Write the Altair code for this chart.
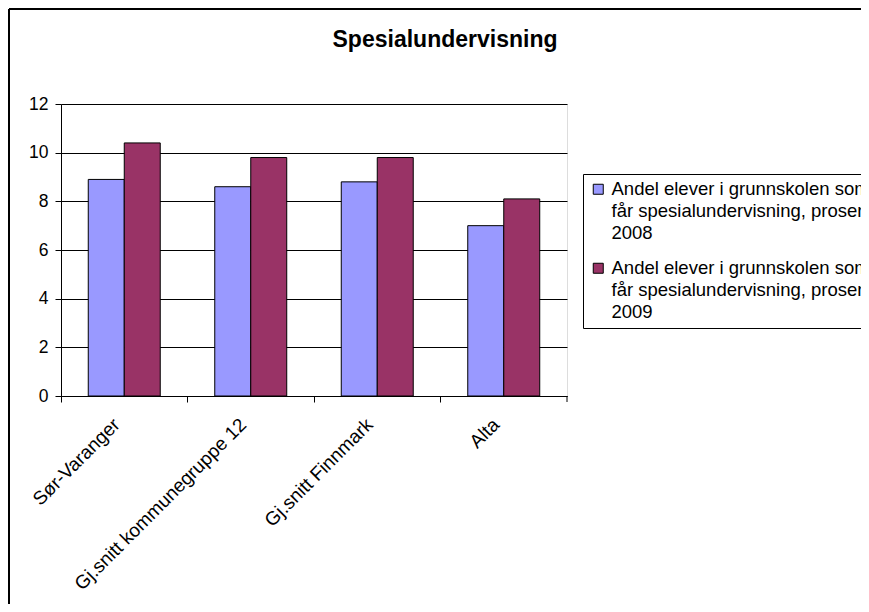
import altair as alt
import pandas as pd

categories = ["Sør-Varanger", "Gj.snitt kommunegruppe 12", "Gj.snitt Finnmark", "Alta"]
years = ["2008", "2009"]
values_2008 = [8.9, 8.6, 8.8, 7.0]
values_2009 = [10.4, 9.8, 9.8, 8.1]
colors = ["#9999FF", "#993366"]
legend_lines = ["Andel elever i grunnskolen som", "får spesialundervisning, prosent"]
y_ticks = [0, 2, 4, 6, 8, 10, 12]

rows = []
for c, a, b in zip(categories, values_2008, values_2009):
    rows.append({"kategori": c, "år": years[0], "verdi": a})
    rows.append({"kategori": c, "år": years[1], "verdi": b})
df = pd.DataFrame(rows)

FONT = "Liberation Sans"
W, H = 506, 292

label_expr = "['" + legend_lines[0] + "', '" + legend_lines[1] + "', datum.label]"

bars = alt.Chart(df).mark_bar(stroke="black", strokeWidth=1).encode(
    x=alt.X("kategori:N", sort=categories,
            scale=alt.Scale(paddingInner=0, paddingOuter=0),
            axis=alt.Axis(title=None, labelAngle=-45, labelFontSize=19, labelFont=FONT,
                          labelColor="black", domainColor="black", tickColor="black",
                          tickSize=6, labelPadding=13, labelOffset=-14, bandPosition=0,
                          labelLimit=400)),
    xOffset=alt.XOffset("år:N", scale=alt.Scale(paddingInner=0, paddingOuter=0.757)),
    y=alt.Y("verdi:Q", scale=alt.Scale(domain=[0, 12], nice=False),
            axis=alt.Axis(title=None, values=y_ticks, labelFontSize=17.5, labelFont=FONT,
                          labelColor="black", domainColor="black", tickColor="black",
                          tickSize=6, labelPadding=7, grid=True, gridColor="black",
                          gridOpacity=1, gridWidth=1)),
    color=alt.Color("år:N", scale=alt.Scale(domain=years, range=colors),
                    legend=alt.Legend(title=None, orient="none", legendX=522, legendY=70,
                                      labelExpr=label_expr, labelFontSize=18.5, labelFont=FONT,
                                      labelColor="black", labelLimit=500, symbolType="square",
                                      symbolSize=100, symbolStrokeColor="black",
                                      symbolStrokeWidth=1, labelOffset=4, padding=6,
                                      strokeColor="black", fillColor="white",
                                      rowPadding=16, labelBaseline="middle")),
)

frame = pd.DataFrame({"dummy": [0]})
left_border = alt.Chart(frame).mark_rule(color="black", strokeWidth=2).encode(
    x=alt.value(-52), y=alt.value(-95), y2=alt.value(520))
top_border = alt.Chart(frame).mark_rule(color="black", strokeWidth=2).encode(
    x=alt.value(-52), x2=alt.value(900), y=alt.value(-95))
end_tick = alt.Chart(frame).mark_rule(color="black", strokeWidth=1).encode(
    x=alt.value(W), y=alt.value(H), y2=alt.value(H + 6))

chart = alt.layer(bars, end_tick, left_border, top_border).properties(
    width=W, height=H,
    title=alt.TitleParams(text="Spesialundervisning", font=FONT, fontSize=23,
                          fontWeight="bold", color="black", anchor="middle", frame="group",
                          dx=131, offset=-62, baseline="alphabetic"),
    padding={"left": 53, "top": 96, "right": 294, "bottom": 208},
    autosize=alt.AutoSizeParams(type="none"),
    background="white",
).configure_view(
    fill="#C0C0C0", stroke="#808080", strokeWidth=1
).configure(
    style={"guide-label": {"lineHeight": 22}}
)

chart.save("out.html", embed_options={"renderer": "svg", "actions": False})
